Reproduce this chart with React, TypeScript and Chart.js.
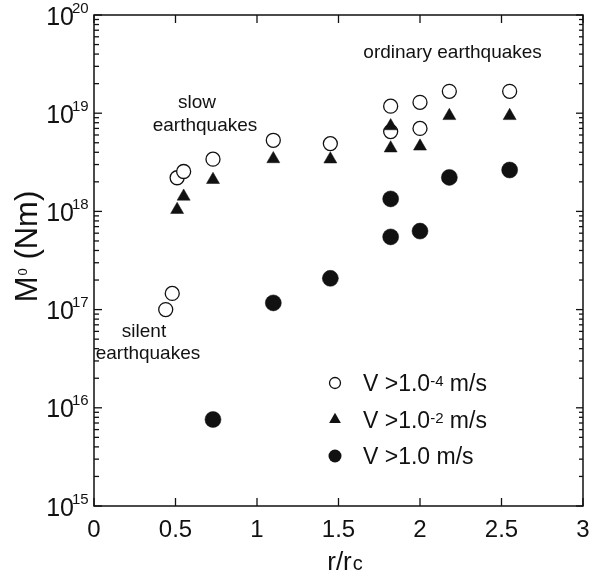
import React, { useEffect, useRef } from "react";
import { Chart, registerables } from "chart.js";

Chart.register(...registerables);

const FONT = '"Liberation Sans", Arial, Helvetica, sans-serif';

// ---- axis ticks ----
const xTickValues = [0, 0.5, 1, 1.5, 2, 2.5, 3];
const xTickLabels = ["0", "0.5", "1", "1.5", "2", "2.5", "3"];
const yExponents = [15, 16, 17, 18, 19, 20];

// ---- series: V > 1.0^-4 m/s (open circles) ----
const openX = [0.44, 0.48, 0.51, 0.55, 0.73, 1.1, 1.45, 1.82, 1.82, 2.0, 2.0, 2.18, 2.55];
const openY = [1.0e17, 1.46e17, 2.2e18, 2.55e18, 3.4e18, 5.3e18, 4.9e18, 1.18e19, 6.5e18, 1.29e19, 7.0e18, 1.67e19, 1.67e19];

// ---- series: V > 1.0^-2 m/s (filled triangles) ----
const triX = [0.51, 0.55, 0.73, 1.1, 1.45, 1.82, 1.82, 2.0, 2.18, 2.55];
const triY = [1.04e18, 1.42e18, 2.1e18, 3.42e18, 3.4e18, 7.4e18, 4.4e18, 4.6e18, 9.4e18, 9.4e18];

// ---- series: V > 1.0 m/s (filled circles) ----
const fillX = [0.73, 1.1, 1.45, 1.82, 1.82, 2.0, 2.18, 2.55];
const fillY = [7.6e15, 1.17e17, 2.08e17, 1.34e18, 5.5e17, 6.3e17, 2.22e18, 2.64e18];

// ---- legend texts: [base, superscript, tail] ----
const legendTexts: [string, string, string][] = [
  ["V >1.0", "-4", " m/s"],
  ["V >1.0", "-2", " m/s"],
  ["V >1.0", "", " m/s"],
];

// ---- annotations (text, x, y in data units) ----
const annotationTexts = ["ordinary earthquakes", "slow", "earthquakes", "silent", "earthquakes"];
const annotationX = [2.2, 0.632, 0.681, 0.307, 0.331];
const annotationY = [4.1e19, 1.27e19, 7.4e18, 5.9e16, 3.53e16];

const toPoints = (xs: number[], ys: number[]) => xs.map((x, i) => ({ x, y: ys[i] }));

const customPlugin = {
  id: "customAxes",
  afterDraw(chart: any) {
    const ctx: CanvasRenderingContext2D = chart.ctx;
    const { left, right, top, bottom } = chart.chartArea;
    const xs = chart.scales.x;
    const ys = chart.scales.y;
    const line = (x1: number, y1: number, x2: number, y2: number) => {
      ctx.beginPath();
      ctx.moveTo(x1, y1);
      ctx.lineTo(x2, y2);
      ctx.stroke();
    };
    ctx.save();
    ctx.strokeStyle = "#111";
    ctx.fillStyle = "#111";
    ctx.lineWidth = 1.5;
    ctx.strokeRect(left, top, right - left, bottom - top);

    // x ticks (inward, top & bottom)
    ctx.lineWidth = 1.3;
    xTickValues.forEach((v) => {
      const px = xs.getPixelForValue(v);
      line(px, bottom, px, bottom - 8);
      line(px, top, px, top + 8);
    });
    // y ticks (inward, left & right, with minors)
    yExponents.forEach((e) => {
      for (let k = 1; k <= 9; k++) {
        if (e === 20 && k > 1) break;
        const py = ys.getPixelForValue(k * Math.pow(10, e));
        const major = k === 1;
        line(left, py, left + (major ? 8 : 5), py);
        line(right, py, right - (major ? 7 : 4), py);
      }
    });

    // x tick labels
    ctx.font = `24px ${FONT}`;
    ctx.textAlign = "center";
    ctx.textBaseline = "alphabetic";
    xTickValues.forEach((v, i) => {
      ctx.fillText(xTickLabels[i], xs.getPixelForValue(v), bottom + 31);
    });

    // y tick labels 10^n
    yExponents.forEach((e) => {
      const py = ys.getPixelForValue(Math.pow(10, e));
      ctx.font = `25px ${FONT}`;
      ctx.textAlign = "right";
      ctx.fillText("10", left - 20, py + 9.5);
      ctx.font = `15px ${FONT}`;
      ctx.textAlign = "left";
      ctx.fillText(String(e), left - 22, py - 2.5);
    });

    // x title r/r_c
    const xcx = (left + right) / 2 + 6;
    ctx.font = `26px ${FONT}`;
    const w1 = ctx.measureText("r/r").width;
    ctx.font = `20px ${FONT}`;
    const w2 = ctx.measureText("c").width;
    const sx = xcx - (w1 + w2) / 2;
    ctx.textAlign = "left";
    ctx.font = `26px ${FONT}`;
    ctx.fillText("r/r", sx, bottom + 64);
    ctx.font = `20px ${FONT}`;
    ctx.fillText("c", sx + w1 + 1, bottom + 64);

    // y title M0 (Nm), rotated
    ctx.save();
    ctx.translate(left - 57, 247);
    ctx.rotate(-Math.PI / 2);
    ctx.font = `31px ${FONT}`;
    const m1 = ctx.measureText("M").width;
    const m3 = ctx.measureText(" (Nm)").width;
    ctx.font = `13px ${FONT}`;
    const m2 = ctx.measureText("0").width;
    const tx = -(m1 + m2 + m3) / 2;
    ctx.textAlign = "left";
    ctx.font = `31px ${FONT}`;
    ctx.fillText("M", tx, 0);
    ctx.font = `13px ${FONT}`;
    ctx.fillText("0", tx + m1 + 1, -10);
    ctx.font = `31px ${FONT}`;
    ctx.fillText(" (Nm)", tx + m1 + m2 + 1, 0);
    ctx.restore();

    // annotations
    ctx.font = `19px ${FONT}`;
    ctx.textAlign = "center";
    ctx.textBaseline = "middle";
    annotationTexts.forEach((t, i) => {
      ctx.fillText(t, xs.getPixelForValue(annotationX[i]), ys.getPixelForValue(annotationY[i]));
    });

    // legend
    const lx = left + 241;
    const ly = top + 368;
    const gap = 36.5;
    ctx.textBaseline = "alphabetic";
    legendTexts.forEach((parts, i) => {
      const cy = ly + i * gap;
      ctx.lineWidth = 1.3;
      if (i === 0) {
        ctx.beginPath();
        ctx.arc(lx, cy, 5.5, 0, Math.PI * 2);
        ctx.fillStyle = "#fff";
        ctx.fill();
        ctx.stroke();
      } else if (i === 1) {
        const r = 6.8;
        ctx.beginPath();
        ctx.moveTo(lx, cy - r);
        ctx.lineTo(lx + r * Math.sin((2 * Math.PI) / 3), cy + r / 2);
        ctx.lineTo(lx - r * Math.sin((2 * Math.PI) / 3), cy + r / 2);
        ctx.closePath();
        ctx.fillStyle = "#111";
        ctx.fill();
      } else {
        ctx.beginPath();
        ctx.arc(lx, cy, 6.5, 0, Math.PI * 2);
        ctx.fillStyle = "#111";
        ctx.fill();
      }
      ctx.fillStyle = "#111";
      ctx.textAlign = "left";
      let px = lx + 28;
      ctx.font = `23px ${FONT}`;
      ctx.fillText(parts[0], px, cy + 8);
      px += ctx.measureText(parts[0]).width;
      if (parts[1]) {
        ctx.font = `15px ${FONT}`;
        ctx.fillText(parts[1], px, cy + 3);
        px += ctx.measureText(parts[1]).width;
      }
      ctx.font = `23px ${FONT}`;
      ctx.fillText(parts[2], px, cy + 8);
    });
    ctx.restore();
  },
};

export default function App() {
  const canvasRef = useRef<HTMLCanvasElement | null>(null);

  useEffect(() => {
    if (!canvasRef.current) return;
    const chart = new Chart(canvasRef.current, {
      type: "scatter",
      data: {
        datasets: [
          {
            label: "V >1.0^-4 m/s",
            data: toPoints(openX, openY),
            pointStyle: "circle",
            pointRadius: 7,
            backgroundColor: "#ffffff",
            borderColor: "#111111",
            borderWidth: 1.3,
            order: 3,
          },
          {
            label: "V >1.0^-2 m/s",
            data: toPoints(triX, triY),
            pointStyle: "triangle",
            pointRadius: 7.5,
            backgroundColor: "#111111",
            borderColor: "#111111",
            borderWidth: 0.5,
            order: 1,
          },
          {
            label: "V >1.0 m/s",
            data: toPoints(fillX, fillY),
            pointStyle: "circle",
            pointRadius: 8,
            backgroundColor: "#111111",
            borderColor: "#111111",
            borderWidth: 0.5,
            order: 2,
          },
        ],
      },
      options: {
        responsive: false,
        animation: false,
        events: [],
        layout: { padding: { left: 94, right: 24, top: 15, bottom: 79 } },
        plugins: {
          legend: { display: false },
          tooltip: { enabled: false },
        },
        scales: {
          x: { type: "linear", min: 0, max: 3, display: false },
          y: { type: "logarithmic", min: 1e15, max: 1e20, display: false },
        },
      },
      plugins: [customPlugin],
    });
    return () => chart.destroy();
  }, []);

  return (
    <div style={{ position: "fixed", left: 0, top: 0, width: 607, height: 585, background: "#fff" }}>
      <canvas ref={canvasRef} width={607} height={585} style={{ display: "block" }} />
    </div>
  );
}
